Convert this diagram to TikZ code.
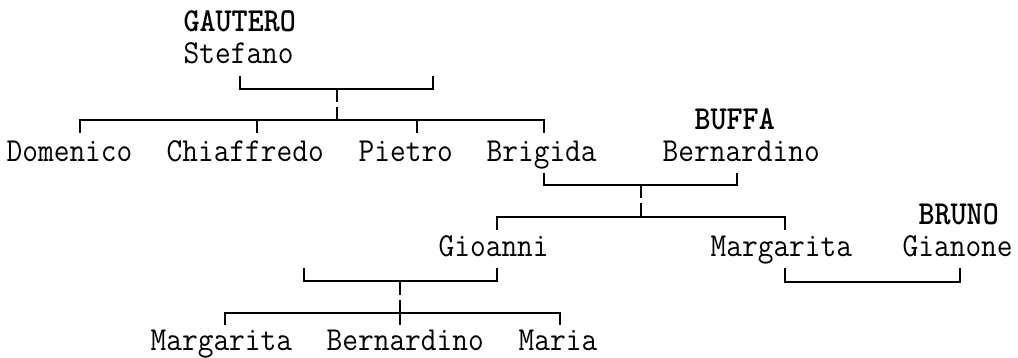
\documentclass[tikz,border=0pt]{standalone}
\newcommand\tallname[1]{\scalebox{1}[1.1]{#1}}
\begin{document}
\begin{tikzpicture}[x=1pt,y=-1pt,
  person/.style={anchor=base west,inner sep=0pt,font=\fontsize{30.5}{36}\selectfont\ttfamily},
  surname/.style={person,font=\fontsize{30.5}{36}\selectfont\ttfamily\bfseries},
  link/.style={line width=2pt,line cap=butt,black}]
\useasboundingbox (0,0) rectangle (1018,358);
% generation 1
\node[surname] (gautero) at (183.5,32) {\tallname{GAUTERO}};
\node[person] (stefano) at (183.5,64) {\tallname{Stefano}};
% generation 2
\node[person] (domenico) at (6.5,162) {\tallname{Domenico}};
\node[person] (chiaffredo) at (166.5,162) {\tallname{Chiaffredo}};
\node[person] (pietro) at (358.5,162) {\tallname{Pietro}};
\node[person] (brigida) at (486.5,162) {\tallname{Brigida}};
\node[surname] (buffa) at (694.5,130) {\tallname{BUFFA}};
\node[person] (bernardino) at (662.5,162) {\tallname{Bernardino}};
% generation 3
\node[person] (gioanni) at (438.5,257) {\tallname{Gioanni}};
\node[person] (margarita) at (710.5,257) {\tallname{Margarita}};
\node[surname] (bruno) at (918.5,225) {\tallname{BRUNO}};
\node[person] (gianone) at (902.5,257) {\tallname{Gianone}};
% generation 4
\node[person] (margarita2) at (150.5,350) {\tallname{Margarita}};
\node[person] (bernardino2) at (326.5,350) {\tallname{Bernardino}};
\node[person] (maria) at (518.5,350) {\tallname{Maria}};
% junction coordinates
\coordinate (sL) at (240,76);
\coordinate (sR) at (433,76);
\coordinate (sM) at (337,89);
\coordinate (cD) at (80,133);
\coordinate (cC) at (257,133);
\coordinate (cP) at (417,133);
\coordinate (cB) at (544,133);
\coordinate (bL) at (544,173);
\coordinate (bR) at (737,173);
\coordinate (bM) at (641,185);
\coordinate (gG) at (497,230);
\coordinate (gM) at (785,230);
\coordinate (jL) at (304,268);
\coordinate (jR) at (497,268);
\coordinate (jM) at (400,281);
\coordinate (kL) at (225,325);
\coordinate (kM) at (400,325);
\coordinate (kR) at (560,325);
\coordinate (mL) at (785,268);
\coordinate (mR) at (960,268);
% Stefano
\draw[link] (sL) -- ++(0,13) -| (sR);
\draw[link] (sM) -- ++(0,13) ++(0,5) -- ++(0,13);
\draw[link] (cD) -- ++(0,-13) -| (cB);
\draw[link] (cC) -- ++(0,-13);
\draw[link] (cP) -- ++(0,-13);
% Brigida + Bernardino
\draw[link] (bL) -- ++(0,12) -| (bR);
\draw[link] (bM) -- ++(0,13) ++(0,5) -- ++(0,14);
\draw[link] (gG) -- ++(0,-13) -| (gM);
% Gioanni
\draw[link] (jL) -- ++(0,13) -| (jR);
\draw[link] (jM) -- ++(0,14) ++(0,5) -- ++(0,12);
\draw[link] (kL) -- ++(0,-12) -| (kR);
\draw[link] (kM) -- ++(0,-12);
% Margarita + Gianone
\draw[link] (mL) -- ++(0,14) -| (mR);
\end{tikzpicture}
\end{document}
